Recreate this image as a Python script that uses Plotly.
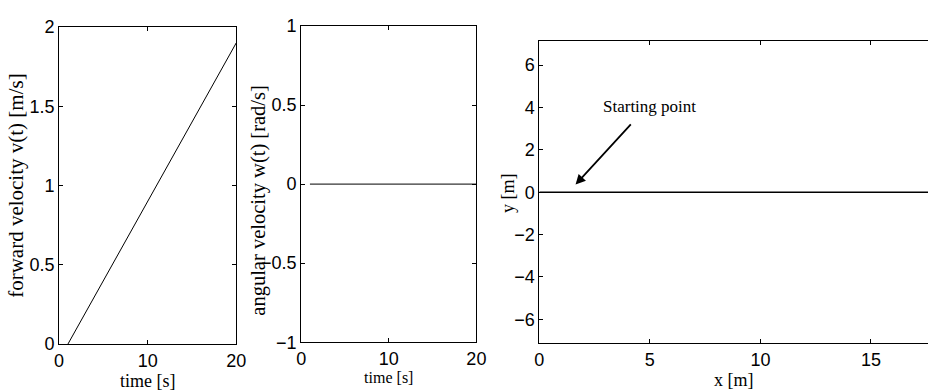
import plotly.graph_objects as go

# Panel 1: forward velocity
t_v = [1, 5, 10, 15, 20]
v = [0.0, 0.4, 0.9, 1.4, 1.9]
# Panel 2: angular velocity
t_w = [1, 5, 10, 15, 20]
w = [0.0, 0.0, 0.0, 0.0, 0.0]
# Panel 3: trajectory
x_traj = [0, 2, 5, 10, 15, 18]
y_traj = [0, 0, 0, 0, 0, 0]

v_ticks = [0, 0.5, 1, 1.5, 2]
w_ticks = [-1, -0.5, 0, 0.5, 1]
t_ticks = [0, 10, 20]
x_ticks = [0, 5, 10, 15]
y_ticks = [-6, -4, -2, 0, 2, 4, 6]

start_label = "Starting point"
start_xy = (1.64, 0.36)
start_tail = (4.2, 3.27)
start_text_xy = (4.98, 4.03)

tickfont = dict(family="Liberation Sans", size=18, color="black")
serif = "Liberation Serif"

fig = go.Figure()
fig.add_trace(go.Scatter(x=t_v, y=v, mode="lines", line=dict(color="black", width=1),
                         xaxis="x", yaxis="y", showlegend=False))
fig.add_trace(go.Scatter(x=t_w, y=w, mode="lines", line=dict(color="black", width=1),
                         xaxis="x2", yaxis="y2", showlegend=False))
fig.add_trace(go.Scatter(x=x_traj, y=y_traj, mode="lines", line=dict(color="black", width=1.6),
                         xaxis="x3", yaxis="y3", showlegend=False))

common = dict(showgrid=False, zeroline=False, showline=True, linecolor="black", linewidth=1,
              ticks="inside", ticklen=4, tickcolor="black", tickfont=tickfont)

fig.update_layout(
    width=938, height=392,
    margin=dict(l=0, r=0, t=0, b=0),
    paper_bgcolor="white", plot_bgcolor="white",
    xaxis=dict(domain=[0.0586, 0.2505], range=[0, 20], tickvals=t_ticks, mirror="ticks",
               anchor="y",
               title=dict(text="time [s]", font=dict(family=serif, size=18, color="black"), standoff=0),
               **common),
    yaxis=dict(domain=[0.102, 0.954], range=[0, 2], tickvals=v_ticks, mirror="ticks", anchor="x",
               title=dict(text="forward velocity v(t) [m/s]", font=dict(family=serif, size=21, color="black"), standoff=0),
               **common),
    xaxis2=dict(domain=[0.3209, 0.5107], range=[0, 20], tickvals=t_ticks, mirror="ticks", anchor="y2",
                title=dict(text="time [s]", font=dict(family=serif, size=16, color="black"), standoff=0),
                **common),
    yaxis2=dict(domain=[0.107, 0.957], range=[-1, 1], tickvals=w_ticks, mirror="ticks", anchor="x2",
                **common),
    xaxis3=dict(domain=[0.5789, 1.0], range=[0, 17.58], tickvals=x_ticks, mirror="ticks", anchor="y3",
                title=dict(text="x [m]", font=dict(family=serif, size=18, color="black"), standoff=0),
                **common),
    yaxis3=dict(domain=[0.1046, 0.918], range=[-7.12, 7.16], tickvals=y_ticks, mirror=False, anchor="x3",
                **common),
)

# y-axis titles for panels 2 and 3 placed to hug the tick labels as in the original
fig.add_annotation(x=258 / 938, y=(392 - 200) / 392, xref="paper", yref="paper",
                   text="angular velocity w(t) [rad/s]", textangle=-90, showarrow=False,
                   xanchor="center", yanchor="middle",
                   font=dict(family=serif, size=20.5, color="black"))
fig.add_annotation(x=511 / 938, y=(392 - 193) / 392, xref="paper", yref="paper",
                   text="y [m]", textangle=-90, showarrow=False,
                   xanchor="center", yanchor="middle",
                   font=dict(family=serif, size=18, color="black"))

fig.add_annotation(x=start_xy[0], y=start_xy[1], ax=start_tail[0], ay=start_tail[1],
                   xref="x3", yref="y3", axref="x3", ayref="y3", text="",
                   showarrow=True, arrowhead=2, arrowsize=1.1, arrowwidth=1.8, arrowcolor="black")
fig.add_annotation(x=start_text_xy[0], y=start_text_xy[1], xref="x3", yref="y3",
                   text=start_label, showarrow=False, xanchor="center", yanchor="middle",
                   font=dict(family=serif, size=17, color="black"))

fig.write_html("out.html")
